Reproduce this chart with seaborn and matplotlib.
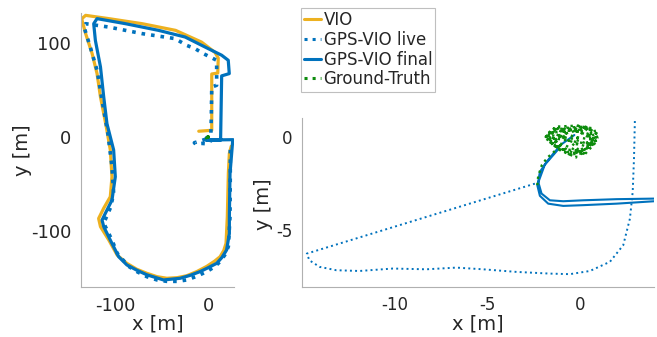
import numpy as np
import seaborn as sns
import matplotlib
matplotlib.use('Agg')
import matplotlib.pyplot as plt

# trajectories in metres
vio_x = [-10, 4, 4, 10.5, 11, 7.5, -7, -35, -71, -107, -132, -136, -135.8, -132, -125, -119.7,
         -116, -109.7, -105.4, -103.6, -105.4, -112.5, -118, -116, -107, -98, -87.5, -77, -66,
         -55, -44.4, -33, -23, -12, -1.4, 7, 13, 17, 19.4, 20.8, 21.9, 23, 25]
vio_y = [6, 7, 67, 68, 84, 90, 101, 113.5, 120.6, 126, 129.5, 126, 124, 110, 88.7, 67.4,
         42.5, 10.6, -14, -42.5, -63.8, -76, -87, -95.7, -110, -126, -134.8, -141, -145.4,
         -149, -150.7, -150, -148, -143.5, -138, -132.5, -127.7, -121, -113.5, -85, -39, -17.7, -10]

live_x = [-2.43, -14.74, -14.6, -14.05, -13.15, -11.9, -10.1, -8.29, -6.67, -5.23, -3.42,
          -1.62, -0.54, 0.54, 1.62, 2.34, 2.7, 2.85, 2.92, 2.97, 3.5, 4, 9.3, 9.3, -5, -14,
          -23, -35.5, -71, -107, -132, -134, -127, -119.7, -114.3, -108, -103.6, -101.8,
          -105, -112.5, -103.6, -98, -85.7, -76, -66, -55, -44.4, -33, -23, -12, -1.4, 7,
          13, 18, 21.9, 23.7, 24, 24]
live_y = [-2.5, -6.24, -6.6, -6.95, -7.13, -7.17, -7.04, -7.08, -6.99, -7.08, -7.22,
          -7.31, -7.34, -7.17, -6.68, -5.79, -4.37, -2.94, -1.16, 0.98, 20, 53, 55, 81.6,
          88.7, 94, 97.5, 104.7, 110, 117, 120.6, 118, 95.7, 71, 39, 3.5, -32, -60,
          -75, -92, -110, -124, -138, -144, -149, -152.5, -154, -154, -152.5, -148.5, -143.6,
          -138.5, -133, -126, -117, -85, -40, -10]

final_x = [-0.3, -1.0, -1.44, -1.8, -2.16, -2.25, -2.07, -1.62, -0.9, 0.18, 1.98, 4.02,
           27, 26.5, 23.7, 23, 23, 20, 15, 9.3, 0, -8.6, -19, -30, -48, -66, -77, -87.5,
           -96.4, -105.4, -112.5, -114.3, -110.8, -103.6, -100, -101.8, -109, -112.5, -116,
           -121.5, -123.3, -119.7, -89, -53.4, -24.7, 0.3, 14.7, 21.8, 22.9, 14.7, 13.6, 13.5,
           4.02, 1.98, 0.18, -0.9, -1.71, -2.16, -2.3, -1.9, -1.2]
final_y = [0.1, -0.4, -0.9, -1.34, -1.87, -2.4, -3.03, -3.39, -3.44, -3.39, -3.33, -3.3,
           -3, -5.3, -39, -85, -103, -120.6, -128.5, -134.8, -139.5, -143.6, -147.5, -150.7,
           -152.5, -147, -142, -136.5, -127.7, -110, -95.7, -88.7, -81.6, -67.4, -42.5, -14,
           14, 42.5, 74.5, 102.8, 120.6, 126, 120.6, 113.5, 106.4, 94, 87, 81.6, 67.4, 65, 0,
           -3.5, -3.44, -3.57, -3.65, -3.69, -3.57, -3.15, -2.58, -1.5, -0.7]

gt_x = [-2.3, -2.25, -2.05, -1.75, -1.45, -1.2, -1.7, -1.5, -0.6, 0.3, 0.9, 0.5, -0.4, -1.6,
        -1.2, -0.1, 0.8, 0.6, -0.3, -1.0, -1.8, -1.1, 0.0, 0.95, 0.4, -0.5, -1.3, -0.8, 0.2,
        0.7, 0.1, -0.7, -1.5, -1.7, -0.9, 0.5, 0.85, 0.2, -0.2, -1.0, -1.4, -0.4, 0.6, 0.3, -0.6,
        -1.85, -1.3, -0.2, 0.75, 0.95, 0.3, -0.6, -1.5, -1.9, -1.0, 0.1, 0.9, 0.6, -0.1, -0.2,
        -1.1, -1.6, -0.7, 0.4, 1.0, 0.5, -0.5, -1.2, -1.85, -1.4, -0.3, 0.7, 0.2, -0.8, -1.6]
gt_y = [-2.58, -2.1, -1.5, -1.1, -0.85, -0.6, -0.2, 0.35, 0.5, 0.55, 0.2, -0.4, -0.1, 0.1,
        0.45, 0.3, -0.2, -0.5, -0.9, -0.5, 0.0, 0.5, 0.25, -0.1, -0.6, -1.0, -0.3, 0.4, 0.55,
        0.0, -0.9, -0.8, -0.4, 0.2, 0.3, 0.45, -0.3, -1.0, -0.55, 0.15, -0.1, 0.5, 0.1, -0.5, -0.2,
        0.0, 0.55, 0.6, 0.45, -0.05, -0.35, -0.2, 0.25, -0.05, -0.65, -0.75, -0.3, 0.35, 0.6, -1.1,
        -0.7, -0.3, 0.2, 0.5, 0.1, -0.45, -0.95, -0.6, 0.1, 0.45, 0.0, -0.15, -0.9, -0.45, -0.15]

c_vio = '#EDB120'
c_blue = '#0072BD'
c_gt = '#0e8c0e'

sns.set_style('white')
plt.rcParams['font.family'] = ['DejaVu Sans']

fig = plt.figure(figsize=(6.57, 3.37), dpi=100)
ax1 = fig.add_axes([81/657, 50/337, 153/657, 274/337])
ax2 = fig.add_axes([302/657, 50.5/337, 352/657, 168.3/337])

def draw(ax, lw, dot_lw, gt_lw, tick_size):
    kw = dict(sort=False, estimator=None, ax=ax)
    sns.lineplot(x=vio_x, y=vio_y, color=c_vio, linewidth=lw, label='VIO', **kw)
    sns.lineplot(x=live_x, y=live_y, color=c_blue, linewidth=dot_lw,
                 linestyle=':', label='GPS-VIO live', **kw)
    sns.lineplot(x=final_x, y=final_y, color=c_blue, linewidth=lw,
                 label='GPS-VIO final', **kw)
    sns.lineplot(x=gt_x, y=gt_y, color=c_gt, linewidth=gt_lw,
                 linestyle=':', label='Ground-Truth', **kw)
    for s in ['top', 'right']:
        ax.spines[s].set_visible(False)
    for s in ['left', 'bottom']:
        ax.spines[s].set_color('#b0b0b0')
        ax.spines[s].set_linewidth(0.8)
    ax.tick_params(direction='in', length=3, width=0.6, color='#b0b0b0',
                   labelsize=tick_size, labelcolor='#262626', pad=7)
    ax.set_xlabel('x [m]', fontsize=14, color='#262626')
    ax.set_ylabel('y [m]', fontsize=14, color='#262626')
    ax.get_legend().remove()

draw(ax1, 2.3, 2.6, 1.5, 13)
ax1.set_xlim(-137, 28)
ax1.set_ylim(-160, 132)
ax1.set_xticks([-100, 0])
ax1.set_yticks([-100, 0, 100])
ax1.set_xticklabels(['-100', '0'])
ax1.set_yticklabels(['-100', '0', '100'])
ax1.xaxis.set_label_coords(0.5, -0.1)
ax1.yaxis.set_label_coords(-0.32, 0.5)

draw(ax2, 1.5, 1.4, 1.7, 12)
ax2.set_xlim(-15, 4)
ax2.set_ylim(-8, 1)
ax2.set_xticks([-10, -5, 0])
ax2.set_yticks([-5, 0])
ax2.set_xticklabels(['-10', '-5', '0'])
ax2.set_yticklabels(['-5', '0'])
ax2.xaxis.set_label_coords(0.5, -0.165)
ax2.yaxis.set_label_coords(-0.082, 0.49)

handles, labels = ax2.get_legend_handles_labels()
leg = fig.legend(handles, labels, loc='upper left', bbox_to_anchor=(301/657, 1 - 8/337),
                 fontsize=12, frameon=True, fancybox=False, edgecolor='#b0b0b0',
                 handlelength=1.0, handletextpad=0.15, labelspacing=0.1, borderpad=0.2,
                 borderaxespad=0)
leg.get_frame().set_linewidth(0.8)
for h in leg.get_lines():
    h.set_linewidth(2.2)

fig.savefig('out.png', dpi=100)
